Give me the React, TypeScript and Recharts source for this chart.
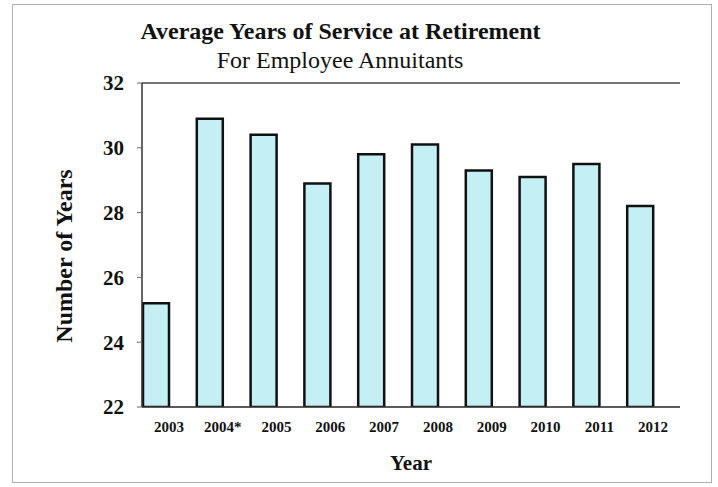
import { BarChart, Bar, XAxis, YAxis, CartesianGrid, ReferenceLine } from 'recharts';

const years = ['2003', '2004*', '2005', '2006', '2007', '2008', '2009', '2010', '2011', '2012'];
const avgYears = [25.2, 30.9, 30.4, 28.9, 29.8, 30.1, 29.3, 29.1, 29.5, 28.2];
const yTicks = [22, 24, 26, 28, 30, 32];

const data = years.map((year, i) => ({ year, value: avgYears[i] }));

const serif = '"Liberation Serif", "Times New Roman", serif';

export default function App() {
  return (
    <div style={{ position: 'absolute', left: 0, top: 0, width: 718, height: 487, background: '#fff', fontFamily: serif }}>
      {/* outer frame */}
      <div style={{ position: 'absolute', left: 12, top: 4, width: 700, height: 479, border: '1px solid #b0b0b0', boxSizing: 'border-box' }} />
      <div style={{ position: 'absolute', left: 0, width: 681, top: 17, textAlign: 'center', fontSize: 24, fontWeight: 'bold', color: '#111', lineHeight: '28px' }}>
        Average Years of Service at Retirement
      </div>
      <div style={{ position: 'absolute', left: 0, width: 680, top: 46, textAlign: 'center', fontSize: 24, color: '#111', lineHeight: '28px' }}>
        For Employee Annuitants
      </div>
      <div style={{ position: 'absolute', left: 0, width: 822, top: 451, textAlign: 'center', fontSize: 21, fontWeight: 'bold', color: '#111', lineHeight: '24px' }}>
        Year
      </div>
      <div style={{
        position: 'absolute', left: 64, top: 256, transform: 'translate(-50%, -50%) rotate(-90deg)',
        whiteSpace: 'nowrap', fontSize: 24, fontWeight: 'bold', color: '#111', lineHeight: '28px'
      }}>
        Number of Years
      </div>
      <BarChart
        width={718}
        height={487}
        data={data}
        margin={{ top: 83, right: 38, left: 82, bottom: 50 }}
        barCategoryGap={1}
        barGap={0}
        style={{ position: 'absolute', left: 0, top: 0 }}
      >
        <CartesianGrid vertical={false} stroke="#a8a8a8" strokeWidth={1} />
        <XAxis
          dataKey="year"
          height={30}
          tickLine={false}
          tickSize={6}
          tickMargin={8}
          axisLine={{ stroke: '#333', strokeWidth: 1.5 }}
          tick={{ fill: '#111', fontSize: 15, fontWeight: 'bold', fontFamily: serif }}
          interval={0}
        />
        <YAxis
          yAxisId="left"
          domain={[22, 32]}
          ticks={yTicks}
          width={60}
          tickSize={5}
          tickMargin={13}
          axisLine={{ stroke: '#333', strokeWidth: 1.5 }}
          tickLine={{ stroke: '#666' }}
          tick={{ fill: '#111', fontSize: 21, fontWeight: 'bold', fontFamily: serif }}
          allowDataOverflow
        />
        <YAxis
          yAxisId="right"
          orientation="right"
          domain={[22, 32]}
          width={0}
          tick={false}
          tickLine={false}
          axisLine={{ stroke: '#555', strokeWidth: 1.5 }}
        />
        <ReferenceLine yAxisId="left" y={32} stroke="#555" strokeWidth={1.5} />
        <Bar yAxisId="left" dataKey="value" barSize={26} fill="#c4eff5" stroke="#111" strokeWidth={2.5} isAnimationActive={false} />
        <Bar yAxisId="left" dataKey="blank" barSize={26} fill="none" isAnimationActive={false} />
      </BarChart>
    </div>
  );
}
